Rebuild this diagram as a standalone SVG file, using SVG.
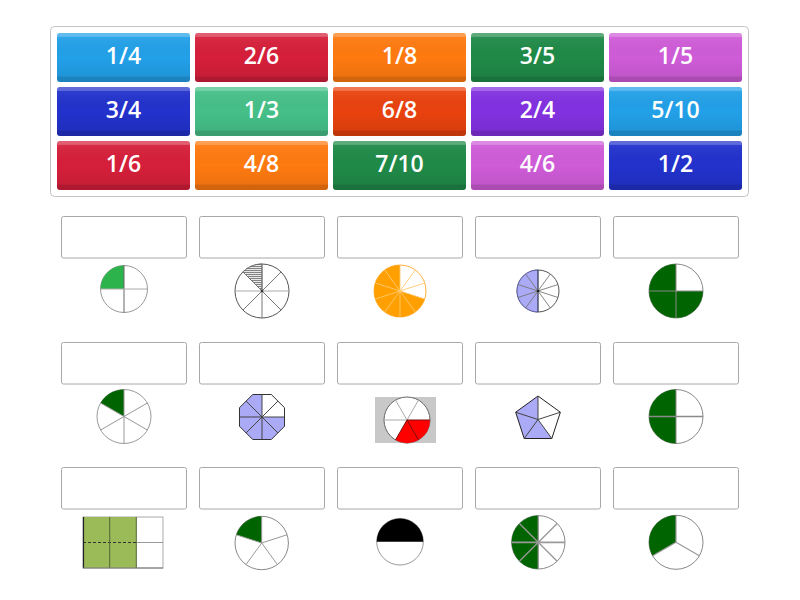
<svg xmlns="http://www.w3.org/2000/svg" width="800" height="600" viewBox="0 0 800 600">
<defs>
<linearGradient id="shade" x1="0" y1="0" x2="0" y2="1">
<stop offset="0" stop-color="#fff" stop-opacity="0.28"/>
<stop offset="0.07" stop-color="#fff" stop-opacity="0.28"/>
<stop offset="0.08" stop-color="#fff" stop-opacity="0.06"/>
<stop offset="0.5" stop-color="#000" stop-opacity="0"/>
<stop offset="0.88" stop-color="#000" stop-opacity="0.07"/>
<stop offset="0.9" stop-color="#000" stop-opacity="0.18"/>
<stop offset="1" stop-color="#000" stop-opacity="0.18"/>
</linearGradient>
<pattern id="hatch" patternUnits="userSpaceOnUse" width="4" height="2">
<rect width="4" height="2" fill="#e8e8e8"/>
<line x1="0" y1="0.5" x2="4" y2="0.5" stroke="#777" stroke-width="0.9"/>
</pattern>
</defs>
<style>
.tile{stroke:none}
.sh{fill:url(#shade)}
.lbl{font-family:"Open Sans","Noto Sans","DejaVu Sans",sans-serif;font-weight:600;font-size:23px;fill:#fff;text-anchor:middle}
.box{fill:#fff;stroke:#a8a8a8;stroke-width:1}
.ol{fill:#fff;stroke:#999;stroke-width:1}
.gl{stroke:#999;stroke-width:1;fill:none}
.dl{stroke:#444;stroke-width:1;fill:none}
</style>
<rect width="800" height="600" fill="#fff"/>
<rect x="50.5" y="26.5" width="698" height="170" rx="4" fill="#fff" stroke="#c4c4c4"/>

<g id="tile-1-4"><rect class="tile" x="57" y="33" width="133" height="49" rx="3" fill="#22a0e8"/><rect class="sh" x="57" y="33" width="133" height="49" rx="3"/><text class="lbl" x="123.5" y="63.5">1/4</text></g>
<g id="tile-2-6"><rect class="tile" x="195" y="33" width="133" height="49" rx="3" fill="#d61f3a"/><rect class="sh" x="195" y="33" width="133" height="49" rx="3"/><text class="lbl" x="261.5" y="63.5">2/6</text></g>
<g id="tile-1-8"><rect class="tile" x="333" y="33" width="133" height="49" rx="3" fill="#ff7a10"/><rect class="sh" x="333" y="33" width="133" height="49" rx="3"/><text class="lbl" x="399.5" y="63.5">1/8</text></g>
<g id="tile-3-5"><rect class="tile" x="471" y="33" width="133" height="49" rx="3" fill="#1f8a48"/><rect class="sh" x="471" y="33" width="133" height="49" rx="3"/><text class="lbl" x="537.5" y="63.5">3/5</text></g>
<g id="tile-1-5"><rect class="tile" x="609" y="33" width="133" height="49" rx="3" fill="#cf5cd8"/><rect class="sh" x="609" y="33" width="133" height="49" rx="3"/><text class="lbl" x="675.5" y="63.5">1/5</text></g>

<g id="tile-3-4"><rect class="tile" x="57" y="87" width="133" height="49" rx="3" fill="#2232cc"/><rect class="sh" x="57" y="87" width="133" height="49" rx="3"/><text class="lbl" x="123.5" y="117.5">3/4</text></g>
<g id="tile-1-3"><rect class="tile" x="195" y="87" width="133" height="49" rx="3" fill="#46c088"/><rect class="sh" x="195" y="87" width="133" height="49" rx="3"/><text class="lbl" x="261.5" y="117.5">1/3</text></g>
<g id="tile-6-8"><rect class="tile" x="333" y="87" width="133" height="49" rx="3" fill="#e9420e"/><rect class="sh" x="333" y="87" width="133" height="49" rx="3"/><text class="lbl" x="399.5" y="117.5">6/8</text></g>
<g id="tile-2-4"><rect class="tile" x="471" y="87" width="133" height="49" rx="3" fill="#8231e0"/><rect class="sh" x="471" y="87" width="133" height="49" rx="3"/><text class="lbl" x="537.5" y="117.5">2/4</text></g>
<g id="tile-5-10"><rect class="tile" x="609" y="87" width="133" height="49" rx="3" fill="#22a0e8"/><rect class="sh" x="609" y="87" width="133" height="49" rx="3"/><text class="lbl" x="675.5" y="117.5">5/10</text></g>

<g id="tile-1-6"><rect class="tile" x="57" y="141" width="133" height="49" rx="3" fill="#d61f3a"/><rect class="sh" x="57" y="141" width="133" height="49" rx="3"/><text class="lbl" x="123.5" y="171.5">1/6</text></g>
<g id="tile-4-8"><rect class="tile" x="195" y="141" width="133" height="49" rx="3" fill="#ff7a10"/><rect class="sh" x="195" y="141" width="133" height="49" rx="3"/><text class="lbl" x="261.5" y="171.5">4/8</text></g>
<g id="tile-7-10"><rect class="tile" x="333" y="141" width="133" height="49" rx="3" fill="#1f8a48"/><rect class="sh" x="333" y="141" width="133" height="49" rx="3"/><text class="lbl" x="399.5" y="171.5">7/10</text></g>
<g id="tile-4-6"><rect class="tile" x="471" y="141" width="133" height="49" rx="3" fill="#cf5cd8"/><rect class="sh" x="471" y="141" width="133" height="49" rx="3"/><text class="lbl" x="537.5" y="171.5">4/6</text></g>
<g id="tile-1-2"><rect class="tile" x="609" y="141" width="133" height="49" rx="3" fill="#2232cc"/><rect class="sh" x="609" y="141" width="133" height="49" rx="3"/><text class="lbl" x="675.5" y="171.5">1/2</text></g>

<g id="answer-boxes">
<rect class="box" x="61.5" y="216.5" width="125" height="41.5" rx="2"/>
<rect class="box" x="199.5" y="216.5" width="125" height="41.5" rx="2"/>
<rect class="box" x="337.5" y="216.5" width="125" height="41.5" rx="2"/>
<rect class="box" x="475.5" y="216.5" width="125" height="41.5" rx="2"/>
<rect class="box" x="613.5" y="216.5" width="125" height="41.5" rx="2"/>
<rect class="box" x="61.5" y="342.5" width="125" height="41.5" rx="2"/>
<rect class="box" x="199.5" y="342.5" width="125" height="41.5" rx="2"/>
<rect class="box" x="337.5" y="342.5" width="125" height="41.5" rx="2"/>
<rect class="box" x="475.5" y="342.5" width="125" height="41.5" rx="2"/>
<rect class="box" x="613.5" y="342.5" width="125" height="41.5" rx="2"/>
<rect class="box" x="61.5" y="467.5" width="125" height="41.5" rx="2"/>
<rect class="box" x="199.5" y="467.5" width="125" height="41.5" rx="2"/>
<rect class="box" x="337.5" y="467.5" width="125" height="41.5" rx="2"/>
<rect class="box" x="475.5" y="467.5" width="125" height="41.5" rx="2"/>
<rect class="box" x="613.5" y="467.5" width="125" height="41.5" rx="2"/>
</g>

<!-- Row 1 -->
<g id="pic-quarter">
<circle class="ol" cx="124" cy="289" r="23.5"/>
<path d="M124,289 L124,265.5 A23.5,23.5 0 0 0 100.5,289 Z" fill="#2db34c"/>
<line x1="124" y1="265.5" x2="124" y2="312.5" stroke="#666"/>
<line x1="100.5" y1="289" x2="147.5" y2="289" stroke="#aaa"/>
</g>

<g id="pic-eighth-hatched">
<circle cx="262" cy="291" r="27" fill="#fff" stroke="#555"/>
<path d="M262,291 L262,264 A27,27 0 0 0 242.91,271.91 Z" fill="url(#hatch)" stroke="#666" stroke-width="0.8"/>
<line x1="262" y1="264" x2="262" y2="318" stroke="#777"/>
<line x1="235" y1="291" x2="289" y2="291" stroke="#aaa"/>
<line x1="242.91" y1="271.91" x2="281.09" y2="310.09" stroke="#777"/>
<line x1="281.09" y1="271.91" x2="242.91" y2="310.09" stroke="#777"/>
<circle cx="262" cy="291" r="1.3" fill="#333"/>
</g>

<g id="pic-seven-tenths">
<circle cx="400" cy="291" r="26" fill="#fff" stroke="#ffb040"/>
<path d="M400,291 L424.73,299.03 A26,26 0 1 1 400,265 Z" fill="#ffa000"/>
<g stroke="#ffc870" stroke-width="0.9">
<line x1="400" y1="291" x2="400" y2="265"/>
<line x1="400" y1="291" x2="415.28" y2="269.97"/>
<line x1="400" y1="291" x2="424.73" y2="282.97"/>
<line x1="400" y1="291" x2="424.73" y2="299.03"/>
<line x1="400" y1="291" x2="415.28" y2="312.03"/>
<line x1="400" y1="291" x2="400" y2="317"/>
<line x1="400" y1="291" x2="384.72" y2="312.03"/>
<line x1="400" y1="291" x2="375.27" y2="299.03"/>
<line x1="400" y1="291" x2="375.27" y2="282.97"/>
<line x1="400" y1="291" x2="384.72" y2="269.97"/>
</g>
</g>

<g id="pic-five-tenths">
<circle cx="538" cy="291" r="21" fill="#fff" stroke="#555"/>
<path d="M538,291 L538,312 A21,21 0 0 1 538,270 Z" fill="#aaaaf6" stroke="#5555aa" stroke-width="0.8"/>
<g stroke="#777" stroke-width="0.9">
<line x1="538" y1="270" x2="538" y2="312" stroke="#333"/>
<line x1="550.34" y1="274.01" x2="525.66" y2="307.99"/>
<line x1="557.97" y1="284.51" x2="518.03" y2="297.49"/>
<line x1="557.97" y1="297.49" x2="518.03" y2="284.51"/>
<line x1="550.34" y1="307.99" x2="525.66" y2="274.01"/>
</g>
<circle cx="538" cy="291" r="1.2" fill="#222"/>
</g>

<g id="pic-three-quarters">
<circle cx="676" cy="291" r="27" fill="#fff" stroke="#888"/>
<path d="M676,291 L703,291 A27,27 0 1 1 676,264 Z" fill="#006400"/>
<line x1="676" y1="264" x2="676" y2="318" stroke="#8a8a8a"/>
<line x1="649" y1="291" x2="703" y2="291" stroke="#8a8a8a"/>
</g>

<!-- Row 2 -->
<g id="pic-sixth">
<circle cx="124" cy="416.5" r="27" fill="#fff" stroke="#999"/>
<path d="M124,416.5 L100.62,403 A27,27 0 0 1 124,389.5 Z" fill="#006400"/>
<g class="gl">
<line x1="124" y1="416.5" x2="124" y2="389.5"/>
<line x1="124" y1="416.5" x2="147.38" y2="403"/>
<line x1="124" y1="416.5" x2="147.38" y2="430"/>
<line x1="124" y1="416.5" x2="124" y2="443.5"/>
<line x1="124" y1="416.5" x2="100.62" y2="430"/>
<line x1="124" y1="416.5" x2="100.62" y2="403"/>
</g>
</g>

<g id="pic-octagon">
<polygon points="271.3,394.5 284.5,407.7 284.5,426.3 271.3,439.5 252.7,439.5 239.5,426.3 239.5,407.7 252.7,394.5" fill="#aaaaf6"/>
<path d="M262,417 L262,394.5 L271.3,394.5 L284.5,407.7 L284.5,417 Z" fill="#fff"/>
<polygon points="271.3,394.5 284.5,407.7 284.5,426.3 271.3,439.5 252.7,439.5 239.5,426.3 239.5,407.7 252.7,394.5" fill="none" stroke="#333"/>
<g class="dl">
<line x1="262" y1="394.5" x2="262" y2="439.5"/>
<line x1="239.5" y1="417" x2="284.5" y2="417"/>
<line x1="277.9" y1="401.1" x2="246.1" y2="432.9"/>
<line x1="246.1" y1="401.1" x2="277.9" y2="432.9"/>
</g>
</g>

<g id="pic-two-sixths">
<rect x="375" y="397" width="61" height="46" fill="#c8c8c8"/>
<circle cx="407" cy="420" r="23" fill="#fff" stroke="#666"/>
<path d="M407,420 L430,420 A23,23 0 0 1 395.5,439.92 Z" fill="#ff0000"/>
<g stroke="#aaa">
<line x1="407" y1="420" x2="384" y2="420"/>
<line x1="407" y1="420" x2="395.5" y2="400.08"/>
<line x1="407" y1="420" x2="418.5" y2="400.08"/>
</g>
<g stroke="#7a1010">
<line x1="407" y1="420" x2="430" y2="420"/>
<line x1="407" y1="420" x2="418.5" y2="439.92"/>
<line x1="407" y1="420" x2="395.5" y2="439.92"/>
</g>
</g>

<g id="pic-pentagon">
<polygon points="538,396 560.35,412.24 551.81,438.51 524.19,438.51 515.65,412.24" fill="#fff"/>
<path d="M538,419.5 L538,396 L515.65,412.24 L524.19,438.51 L551.81,438.51 Z" fill="#aaaaf6"/>
<polygon points="538,396 560.35,412.24 551.81,438.51 524.19,438.51 515.65,412.24" fill="none" stroke="#222"/>
<g class="dl" stroke="#333">
<line x1="538" y1="419.5" x2="538" y2="396"/>
<line x1="538" y1="419.5" x2="560.35" y2="412.24"/>
<line x1="538" y1="419.5" x2="551.81" y2="438.51"/>
<line x1="538" y1="419.5" x2="524.19" y2="438.51"/>
<line x1="538" y1="419.5" x2="515.65" y2="412.24"/>
</g>
</g>

<g id="pic-two-quarters">
<circle cx="676" cy="416.5" r="27" fill="#fff" stroke="#888"/>
<path d="M676,416.5 L676,443.5 A27,27 0 0 1 676,389.5 Z" fill="#006400"/>
<line x1="676" y1="389.5" x2="676" y2="443.5" stroke="#8a8a8a"/>
<line x1="649" y1="416.5" x2="703" y2="416.5" stroke="#8a8a8a" stroke-width="1.4"/>
</g>

<!-- Row 3 -->
<g id="pic-rectangle">
<rect x="83" y="517" width="80" height="51" fill="#fff" stroke="#aaa"/>
<rect x="83" y="517" width="53.3" height="51" fill="#9bbb59"/>
<line x1="136.3" y1="542.5" x2="163" y2="542.5" stroke="#999"/>
<line x1="83" y1="542.5" x2="136.3" y2="542.5" stroke="#333" stroke-dasharray="3,2"/>
<line x1="109.7" y1="517" x2="109.7" y2="568" stroke="#556633"/>
<line x1="136.3" y1="517" x2="136.3" y2="568" stroke="#556633"/>
<line x1="83.5" y1="517" x2="83.5" y2="568" stroke="#222" stroke-width="1.2"/>
<line x1="83" y1="568" x2="163" y2="568" stroke="#777"/>
</g>

<g id="pic-fifth">
<circle cx="261.7" cy="543" r="26.7" fill="#fff" stroke="#888"/>
<path d="M261.7,543 L236.31,534.75 A26.7,26.7 0 0 1 261.7,516.3 Z" fill="#006400"/>
<g class="gl" stroke="#888">
<line x1="261.7" y1="543" x2="261.7" y2="516.3"/>
<line x1="261.7" y1="543" x2="287.09" y2="534.75"/>
<line x1="261.7" y1="543" x2="277.39" y2="564.6"/>
<line x1="261.7" y1="543" x2="246.01" y2="564.6"/>
<line x1="261.7" y1="543" x2="236.31" y2="534.75"/>
</g>
</g>

<g id="pic-half">
<circle cx="400" cy="541.7" r="23.3" fill="#fff" stroke="#999"/>
<path d="M376.7,541.7 A23.3,23.3 0 0 1 423.3,541.7 Z" fill="#000"/>
</g>

<g id="pic-four-eighths">
<circle cx="538.3" cy="542.3" r="26.7" fill="#fff" stroke="#888"/>
<path d="M538.3,542.3 L538.3,569 A26.7,26.7 0 0 1 538.3,515.6 Z" fill="#006400"/>
<g stroke="#999" stroke-width="1.3">
<line x1="538.3" y1="515.6" x2="538.3" y2="569"/>
<line x1="511.6" y1="542.3" x2="565" y2="542.3" stroke-width="1.8"/>
<line x1="519.42" y1="523.42" x2="557.18" y2="561.18"/>
<line x1="557.18" y1="523.42" x2="519.42" y2="561.18"/>
</g>
</g>

<g id="pic-third">
<circle cx="676" cy="542.3" r="27" fill="#fff" stroke="#888"/>
<path d="M676,542.3 L652.62,555.8 A27,27 0 0 1 676,515.3 Z" fill="#006400"/>
<g stroke="#999" stroke-width="1.2">
<line x1="676" y1="542.3" x2="676" y2="515.3"/>
<line x1="676" y1="542.3" x2="699.38" y2="555.8"/>
<line x1="676" y1="542.3" x2="652.62" y2="555.8"/>
</g>
</g>
</svg>
